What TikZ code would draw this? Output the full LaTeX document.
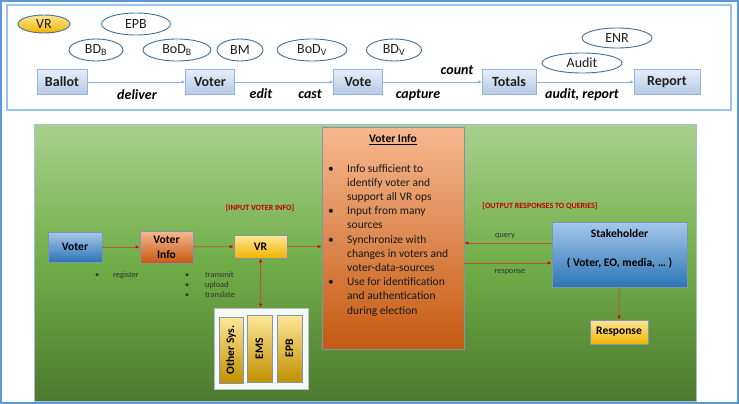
\documentclass[tikz,border=0pt]{standalone}
\usepackage{fontspec}
\setmainfont{Carlito}
\usetikzlibrary{arrows.meta,shapes.geometric}
\definecolor{frameblue}{HTML}{5B9BD5}
\definecolor{topframe}{HTML}{9DC3E6}
\definecolor{ellborder}{HTML}{41719C}
\definecolor{arrblue}{HTML}{8DB3E2}
\definecolor{nodetop}{HTML}{E6EEF8}
\definecolor{nodebot}{HTML}{B4C8E6}
\definecolor{nodeborder}{HTML}{95B3D7}
\definecolor{greentop}{HTML}{A9D18E}
\definecolor{greenmid}{HTML}{70AD47}
\definecolor{greenbot}{HTML}{4E7A2F}
\definecolor{greenborder}{HTML}{A6BDD7}
\definecolor{bluetop}{HTML}{A4C8EA}
\definecolor{bluebot}{HTML}{2E75B6}
\definecolor{orangetop}{HTML}{F6B890}
\definecolor{orangebot}{HTML}{C55A11}
\definecolor{yellowtop}{HTML}{FFE699}
\definecolor{yellowbot}{HTML}{F0B400}
\definecolor{goldbot}{HTML}{C09000}
\definecolor{gborder}{HTML}{7F95AE}
\definecolor{redline}{HTML}{B8553A}
\definecolor{redhead}{HTML}{E00000}
\definecolor{labelred}{HTML}{C00000}
\definecolor{darktext}{HTML}{1F1F1F}
\begin{document}
\begin{tikzpicture}[x=1pt,y=-1pt,
  topnode/.style={draw=nodeborder, line width=0.8pt, top color=nodetop, bottom color=nodebot,
    minimum height=25pt, inner sep=0pt, text=darktext,
    font=\fontsize{14}{16}\selectfont\bfseries},
  oval/.style={ellipse, draw=ellborder, line width=0.9pt, fill=white, inner sep=0pt,
    minimum height=22pt, text=darktext, font=\fontsize{14}{16}\selectfont},
  toparrow/.style={draw=arrblue, line width=0.7pt, -{Latex[length=3.5pt,width=3.5pt]}},
  act/.style={text=black, font=\fontsize{14}{16}\selectfont\bfseries\itshape},
  gnode/.style={draw=gborder, line width=0.8pt, inner sep=0pt, text=black,
    font=\fontsize{11.5}{15}\selectfont\bfseries, align=center},
  bluebox/.style={gnode, top color=bluetop, bottom color=bluebot},
  orangebox/.style={gnode, top color=orangetop, bottom color=orangebot},
  yellowbox/.style={gnode, top color=yellowtop, bottom color=yellowbot},
  goldbar/.style={gnode, rotate=90, top color=yellowtop, bottom color=goldbot,
    minimum width=66pt, minimum height=24pt},
  plaintext/.style={inner sep=0pt, text=black, font=\fontsize{11.5}{15}\selectfont\bfseries},
  redarrow/.style={draw=redline, line width=0.8pt, -{Latex[length=4pt,width=3.5pt,color=redhead]}},
  redboth/.style={draw=redline, line width=0.8pt, {Latex[length=4pt,width=3.5pt,color=redhead]}-{Latex[length=4pt,width=3.5pt,color=redhead]}},
  tag/.style={text=labelred, font=\fontsize{8}{9}\selectfont\bfseries},
  small/.style={text=black!80, font=\fontsize{8.3}{10}\selectfont}
]
\useasboundingbox (0,0) rectangle (739,404);
\draw[frameblue, line width=1.3pt] (1,1) rectangle (738,403);
\draw[topframe, line width=1.3pt] (7,5) rectangle (731,110);

% top row
\node[topnode, minimum width=50pt] (ballot) at (62,82) {Ballot};
\node[topnode, minimum width=49pt] (voter) at (210,82) {Voter};
\node[topnode, minimum width=49pt] (vote) at (358,82) {Vote};
\node[topnode, minimum width=54pt] (totals) at (509,82) {Totals};
\node[topnode, minimum width=66pt] (report) at (667,82) {Report};
\draw[toparrow] (ballot) -- (voter);
\draw[toparrow] (voter) -- (vote);
\draw[toparrow] (vote) -- (totals);
\draw[toparrow] (totals) -- (report);
\node[act] (ldeliver) at (137,95) {deliver};
\node[act] (ledit) at (261,94) {edit};
\node[act] (lcast) at (310,94) {cast};
\node[act] (lcapture) at (418,95) {capture};
\node[act] (lcount) at (457,70) {count};
\node[act] (laudit) at (582,95) {audit, report};

% ellipses
\node[oval, minimum width=52pt, minimum height=18pt, top color=yellowtop, bottom color=yellowbot] (evr) at (44,24) {VR};
\node[oval, minimum width=69pt] (eepb) at (136,24) {EPB};
\node[oval, minimum width=54pt] (ebdb) at (96,50) {BD\textsubscript{B}};
\node[oval, minimum width=68pt] (ebodb) at (177,50) {BoD\textsubscript{B}};
\node[oval, minimum width=46pt] (ebm) at (240,50) {BM};
\node[oval, minimum width=70pt] (ebodv) at (312,50) {BoD\textsubscript{V}};
\node[oval, minimum width=55pt] (ebdv) at (394,50) {BD\textsubscript{V}};
\node[oval, minimum width=80pt, minimum height=20pt] (eaudit) at (582,63) {Audit};
\node[oval, minimum width=70pt, minimum height=20pt] (eenr) at (617,38) {ENR};

% green panel
\path[draw=greenborder, line width=1pt, top color=greentop, bottom color=greenbot, middle color=greenmid]
  (34,124) rectangle (696,401);

\node[bluebox, minimum width=54pt, minimum height=30pt] (gvoter) at (75,247) {Voter};
\node[orangebox, minimum width=53pt, minimum height=32pt] (gvinfo) at (166.5,247) {Voter\\Info};
\node[yellowbox, minimum width=53pt, minimum height=23pt] (gvr) at (260.5,246.5) {VR};
\node[orangebox, minimum width=142pt, minimum height=222pt] (bigbox) at (393,238) {};
\node[bluebox, minimum width=135pt, minimum height=65pt] (stake) at (619.5,254.5) {};
\node[plaintext] (stitle) at (619.5,234) {Stakeholder};
\node[plaintext] (ssub) at (619.5,263) {( Voter, EO, media, … )};
\node[yellowbox, minimum width=58pt, minimum height=24pt] (resp) at (619,332) {Response};
\node[draw=gborder!60, line width=0.8pt, fill=white!88!greentop, minimum width=94pt, minimum height=81pt, inner sep=0pt] (container) at (261,348.5) {};
\node[goldbar] (other) at (231,350) {Other Sys.};
\node[goldbar, minimum width=67pt, minimum height=25pt] (ems) at (259.5,348.5) {EMS};
\node[goldbar, minimum width=67pt, minimum height=25pt] (epb) at (289.5,348.5) {EPB};

% big box text
\node[font=\fontsize{11.5}{14}\selectfont\bfseries, text=black] (btitle) at (393,140) {\underline{Voter Info}};
\node[anchor=base west, inner sep=0pt, text=black!90, font=\fontsize{11.5}{14.2}\selectfont] (blist) at (328,172) {%
\begin{tabular}[t]{@{}p{19pt}@{}l@{}}
\textbullet & Info sufficient to\\
 & identify voter and\\
 & support all VR ops\\
\textbullet & Input from many\\
 & sources\\
\textbullet & Synchronize with\\
 & changes in voters and\\
 & voter-data-sources\\
\textbullet & Use for identification\\
 & and authentication\\
 & during election
\end{tabular}};

% connectors
\draw[redarrow] (gvoter) -- (gvinfo);
\draw[redarrow] (gvinfo) -- (gvr);
\draw[redarrow] (gvr.east) -- (gvr.east -| bigbox.west);
\draw[redboth] (gvr) -- (gvr |- container.north);
\draw[redarrow] (stake.west |- 0,243) -- (bigbox.east |- 0,243);
\draw[redarrow] (bigbox.east |- 0,263) -- (stake.west |- 0,263);
\draw[redarrow] (stake) -- (resp);

% labels
\node[tag] (tin) at (260,208) {[INPUT VOTER INFO]};
\node[tag] (tout) at (540,206) {[OUTPUT RESPONSES TO QUERIES]};
\node[small] (lquery) at (505,236) {query};
\node[small] (lresp) at (510,272) {response};
\node[small, anchor=base west, inner sep=0pt] (lreg) at (95,277) {%
\begin{tabular}[t]{@{}p{18pt}@{}l@{}}\textbullet & register\end{tabular}};
\node[small, anchor=base west, inner sep=0pt] (ltrans) at (185,277) {%
\begin{tabular}[t]{@{}p{20pt}@{}l@{}}
\textbullet & transmit\\
\textbullet & upload\\
\textbullet & translate
\end{tabular}};
\end{tikzpicture}
\end{document}
